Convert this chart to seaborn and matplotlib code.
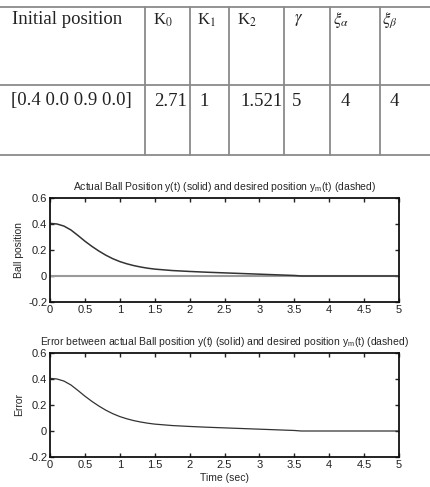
import numpy as np
import pandas as pd
import seaborn as sns
import matplotlib.pyplot as plt

# table contents
header = ['Initial position', r'K$_0$', r'K$_1$', r'K$_2$', r'$\gamma$', r'$\xi_\alpha$', r'$\xi_\beta$']
row = ['[0.4 0.0 0.9 0.0]', '2.71', '1', '1.521', '5', '4', '4']

# ball position
time = [0, 0.1, 0.2, 0.3, 0.4, 0.5, 0.6, 0.7, 0.8, 0.9, 1.0, 1.1, 1.2, 1.3, 1.4, 1.5,
        1.75, 2.0, 2.25, 2.5, 2.75, 3.0, 3.25, 3.5, 3.6, 4.0, 4.5, 5.0]
y_actual = [0.405, 0.400, 0.384, 0.354, 0.312, 0.268, 0.228, 0.192, 0.160, 0.133, 0.111,
            0.094, 0.080, 0.069, 0.060, 0.053, 0.042, 0.035, 0.029, 0.024, 0.019, 0.014,
            0.009, 0.004, 0.0, 0.0, 0.0, 0.0]
y_desired = [0.0] * len(time)

df = pd.DataFrame({'t': time, 'y': y_actual, 'ym': y_desired})
df['err'] = df['y'] - df['ym']

sns.set_style('ticks')
plt.rcParams['font.family'] = ['Liberation Sans', 'DejaVu Sans']
plt.rcParams['mathtext.fontset'] = 'stix'

fig = plt.figure(figsize=(4.31, 4.87), dpi=100)

# --- table drawn in pixel-like coords
tab = fig.add_axes([0, 1 - 160 / 487, 1, 160 / 487])
tab.set_xlim(0, 431)
tab.set_ylim(160, 0)
tab.axis('off')
lc = '#8a8a8a'
for yy in [7, 85, 155]:
    tab.plot([0, 431], [yy, yy], color=lc, lw=1.3)
col_x = [145, 190, 229, 284, 330, 380]
for xx in col_x:
    tab.plot([xx, xx], [7, 155], color=lc, lw=1.3)
head_x = [12, 153, 197, 237, 294, 333, 382]
data_x = [11, 154, 199, 240, 292, 341, 390]
for i, (txt, xx) in enumerate(zip(header, head_x)):
    tab.text(xx, 20, txt, family='Liberation Serif', fontsize=13.5 if i == 0 else 12,
             va='center', ha='left', color='#222222')
for txt, xx in zip(row, data_x):
    tab.text(xx, 101, txt, family='Liberation Serif', fontsize=13.5,
             va='center', ha='left', color='#222222')

# --- the two response plots
ax1 = fig.add_axes([50 / 431, 185 / 487, 349 / 431, 104 / 487])
ax2 = fig.add_axes([50 / 431, 30 / 487, 349 / 431, 104 / 487])

sns.lineplot(data=df, x='t', y='ym', ax=ax1, color='#9a9a9a', lw=1.5)
sns.lineplot(data=df, x='t', y='y', ax=ax1, color='#333333', lw=1.1)
sns.lineplot(data=df, x='t', y='err', ax=ax2, color='#333333', lw=0.9)

for ax in (ax1, ax2):
    ax.set_xlim(0, 5)
    ax.set_ylim(-0.2, 0.6)
    ax.set_xticks(np.arange(0, 5.01, 0.5))
    ax.set_xticklabels(['0', '0.5', '1', '1.5', '2', '2.5', '3', '3.5', '4', '4.5', '5'])
    ax.set_yticks([-0.2, 0, 0.2, 0.4, 0.6])
    ax.set_yticklabels(['-0.2', '0', '0.2', '0.4', '0.6'])
    ax.tick_params(direction='in', length=3, width=1, top=True, right=True,
                   labelsize=8, pad=2, colors='#222222')
    for sp in ax.spines.values():
        sp.set_visible(True)
        sp.set_linewidth(1.3)
        sp.set_color('#111111')
    ax.set_xlabel('')

ax1.set_ylabel('Ball position', fontsize=7.5, labelpad=3)
ax2.set_ylabel('Error', fontsize=7.5, labelpad=3)
ax2.set_xlabel('Time (sec)', fontsize=7.5, labelpad=2)
ax1.set_title(r'Actual Ball Position y(t) (solid) and desired position y$_\mathregular{m}$(t) (dashed)',
              fontsize=7.5, pad=6)
ax2.set_title(r'Error between actual Ball position y(t) (solid) and desired position y$_\mathregular{m}$(t) (dashed)',
              fontsize=7.5, pad=6)

fig.savefig('out.png', dpi=100)
